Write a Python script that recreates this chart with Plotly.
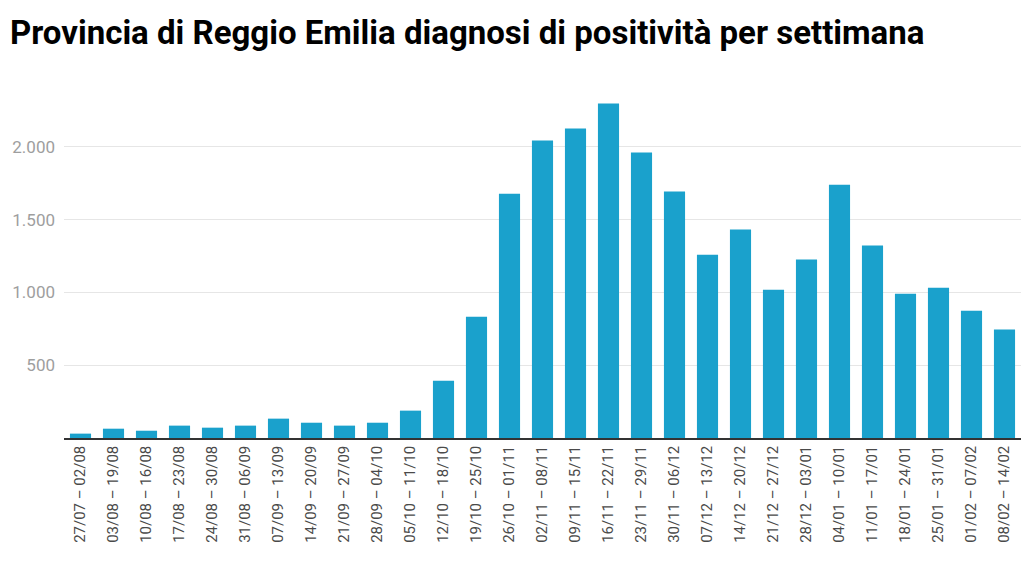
import plotly.graph_objects as go

weeks = [
    "27/07 – 02/08", "03/08 – 19/08", "10/08 – 16/08", "17/08 – 23/08", "24/08 – 30/08",
    "31/08 – 06/09", "07/09 – 13/09", "14/09 – 20/09", "21/09 – 27/09", "28/09 – 04/10",
    "05/10 – 11/10", "12/10 – 18/10", "19/10 – 25/10", "26/10 – 01/11", "02/11 – 08/11",
    "09/11 – 15/11", "16/11 – 22/11", "23/11 – 29/11", "30/11 – 06/12", "07/12 – 13/12",
    "14/12 – 20/12", "21/12 – 27/12", "28/12 – 03/01", "04/01 – 10/01", "11/01 – 17/01",
    "18/01 – 24/01", "25/01 – 31/01", "01/02 – 07/02", "08/02 – 14/02",
]
positives = [
    30, 64, 50, 85, 71, 85, 133, 105, 85, 105, 188, 394, 834, 1679, 2044,
    2126, 2298, 1961, 1693, 1260, 1432, 1019, 1226, 1741, 1322, 992, 1033, 875, 745,
]
y_ticks = [500, 1000, 1500, 2000]
y_tick_labels = ["500", "1.000", "1.500", "2.000"]

fig = go.Figure(
    go.Bar(
        x=weeks,
        y=positives,
        marker=dict(color="#1aa1cc", line=dict(width=0)),
        hovertemplate="%{x}: %{y}<extra></extra>",
    )
)

fig.update_layout(
    width=1034,
    height=565,
    paper_bgcolor="white",
    plot_bgcolor="white",
    margin=dict(l=64, r=13, t=96, b=127),
    bargap=0.36,
    showlegend=False,
    font=dict(family="Roboto", color="#333"),
    title=dict(
        text="Provincia di Reggio Emilia diagnosi di positività per settimana",
        x=10 / 1034,
        xanchor="left",
        xref="container",
        y=1 - 32 / 565,
        yanchor="middle",
        yref="container",
        font=dict(family="Roboto", size=33, color="#000", weight="bold"),
    ),
)

fig.update_xaxes(
    type="category",
    tickangle=-90,
    tickfont=dict(family="Roboto", size=15, color="#4a4a4a"),
    showline=True,
    linecolor="#333",
    linewidth=1.5,
    ticks="",
    showgrid=False,
    fixedrange=True,
)
fig.update_yaxes(
    range=[0, 2350],
    tickvals=y_ticks,
    ticktext=y_tick_labels,
    tickfont=dict(family="Roboto", size=17, color="#9e9e9e"),
    showgrid=True,
    gridcolor="#e6e6e6",
    gridwidth=1,
    zeroline=False,
    showline=False,
    ticks="",
    ticklabelstandoff=8,
    fixedrange=True,
)

fig.write_html(
    "out.html",
    config={"displayModeBar": False},
    post_script="document.body.style.margin='0';",
)
